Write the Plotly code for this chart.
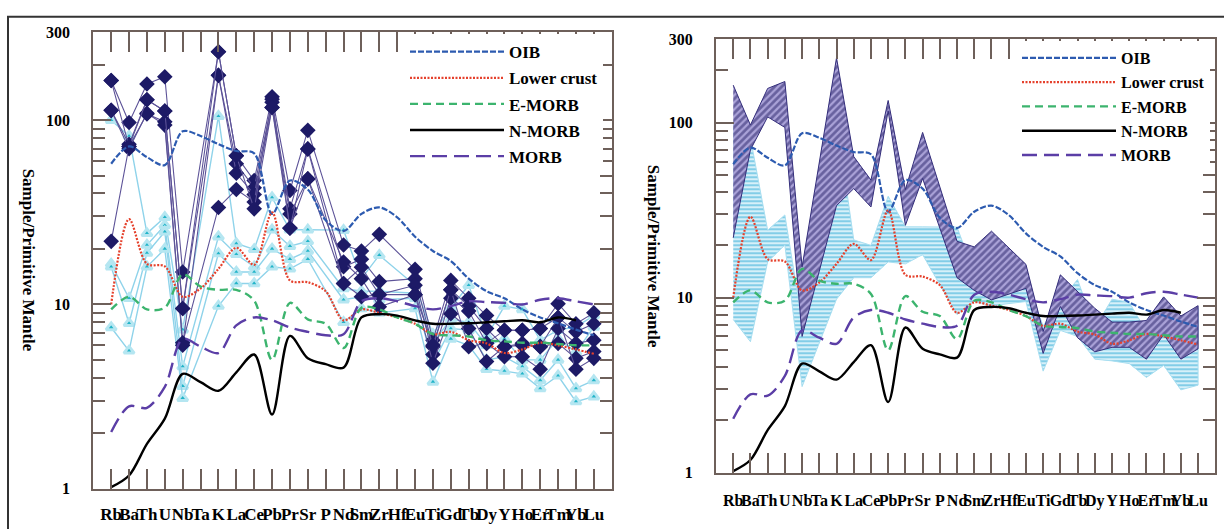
import plotly.graph_objects as go

W, H = 1224, 529

elements = ["Rb", "Ba", "Th", "U", "Nb", "Ta", "K", "La", "Ce", "Pb", "Pr", "Sr", "P", "Nd",
            "Sm", "Zr", "Hf", "Eu", "Ti", "Gd", "Tb", "Dy", "Y", "Ho", "Er", "Tm", "Yb", "Lu"]

# Reference curves (normalised to primitive mantle)
oib = [58, 72, 63, 57, 87, 82, 74, 68, 66, 31, 47, 42, 28.6, 25, 31, 33.6, 29.7, 23.3,
       19.5, 17.2, 13.8, 11.8, 10.8, 9.4, 8.5, 7.9, 7.3, 6.8]
lower_crust = [10.0, 29, 16.6, 16.1, 11.0, 12.2, 15.6, 20.3, 16.4, 31.6, 13.5, 13.2, 11.8, 8.2,
               9.4, 9.0, 8.5, 7.85, 6.9, 7.1, 6.4, 6.15, 5.45, 5.7, 6.2, 6.0, 5.7, 5.4]
e_morb = [9.4, 11.0, 9.4, 9.6, 14.6, 12.5, 12.0, 12.0, 10.5, 5.0, 10.2, 8.3, 7.85, 5.8,
          9.6, 9.4, 8.5, 7.85, 6.9, 6.8, 6.7, 6.4, 6.3, 6.2, 6.2, 6.1, 6.0, 6.0]
n_morb = [1.02, 1.18, 1.75, 2.4, 4.2, 3.79, 3.4, 4.28, 5.35, 2.53, 6.75, 5.1, 4.74, 4.54,
          8.5, 8.85, 8.7, 8.2, 7.85, 7.85, 7.9, 8.0, 8.1, 8.2, 8.0, 8.5, 8.2, None]
morb = [2.03, 2.8, 2.75, 3.57, 6.5, 5.9, 5.45, 7.7, 8.5, 8.2, 7.5, 7.1, 6.8, 6.9,
        10.4, 10.8, 10.4, 9.8, 9.4, 9.8, 10.4, 10.3, 10.2, 10.0, 10.6, 10.8, 10.4, 10.0]

# Samples: dark group (diamonds)
dark_1 = [164, 97, 157, 172, 15, None, 235, 64, 47, 134, 41.5, 88, None, 21, 19.5, 24, None,
          15.5, 6.4, 13.5, 10.8, 8.7, 7.25, 7.25, 7.4, 10.1, 7.85, 9.0]
dark_2 = [113, 74, 129, 112, 9.5, None, 175, 58, 43, 125, 33, 70, None, 16, 17.6, 13.3, None,
          13.8, 5.9, 12.0, 9.8, 7.4, 5.9, 6.15, 5.9, 8.5, 7.1, 7.85]
dark_3 = [113, 70, 109, 94, 6.0, None, 175, 51.5, 39.5, 117, 31, 48, None, 13, 15.9, 11.3, None,
          12.7, 5.35, 10.8, 9.2, 6.15, 5.2, 5.2, 4.45, 7.4, 6.15, 6.4]
dark_4 = [22, 72, 108, 98, 6.2, None, 33.6, 42, 36, 130, 26, 48, None, 17, 13.8, 9.7, None,
          11.3, 4.8, 8.9, 7.4, 4.9, 5.9, 6.0, 5.9, 6.15, 5.1, 5.55]
dark_5 = [164, 72, 129, 112, 9.5, None, 235, 64, 33, 117, 25.9, 69.6, None, 13, 11.0, 11.3, None,
          11.3, 6.0, 12.0, 5.9, 6.15, 7.25, 7.25, 7.4, 8.5, 4.45, 5.1]

# Samples: light group (triangles)
light_1 = [100, 82, 24.3, 29.7, 7.3, None, 105, 21.4, 19.9, 38, 25.4, 25.4, None, 25.3, 13.8,
           18.5, None, 12.7, 6.9, 9.6, 12.7, 6.7, 9.8, 9.4, 6.4, 7.25, 7.55, 8.7]
light_2 = [16.6, 10.8, 21, 26.9, 4.6, None, 23.3, 18.7, 16, 25.4, 20.7, 22, None, 12.2, 11.8,
           11.8, None, 11.5, 6.2, 8.3, 8.0, 6.0, 6.5, 5.0, 5.0, 6.5, 5.5, 7.55]
light_3 = [16, 7.9, 19, 24.8, 3.6, None, 18.9, 15, 15, 20, 17.6, 19.5, None, 10.6, 11.0,
           10.6, None, 10.8, 4.8, 7.4, 7.25, 5.0, 5.2, 4.6, 3.87, 5.0, 3.5, 3.87]
light_4 = [7.5, 5.6, 16, 20, 3.1, None, 9.8, 13, 13, 16, 15.6, 17.6, None, 8.0, 9.5,
           9.0, None, 9.5, 3.8, 6.5, 6.0, 4.45, 4.35, 4.2, 3.5, 4.1, 2.97, 3.16]

dark_samples = [dark_1, dark_2, dark_3, dark_4, dark_5]
light_samples = [light_1, light_2, light_3, light_4]

ref_curves = [
    ("OIB", oib, dict(color="#2d5bb0", width=2.2, dash="6px,2px")),
    ("Lower crust", lower_crust, dict(color="#e5412c", width=2.2, dash="2px,1.5px")),
    ("E-MORB", e_morb, dict(color="#3cb46e", width=2.4, dash="8px,5px")),
    ("N-MORB", n_morb, dict(color="#000000", width=2.4)),
    ("MORB", morb, dict(color="#5b3ea6", width=2.4, dash="15px,7px")),
]

FRAME = "#6e605a"
SERIF = "Liberation Serif"
idx = list(range(len(elements)))
YR = [0, 2.4771]

fig = go.Figure()

# ---------------- left panel: individual samples ----------------
for s in light_samples:
    fig.add_trace(go.Scatter(
        x=idx, y=s, mode="lines+markers", connectgaps=True, showlegend=False,
        line=dict(color="#8fd3ea", width=1.4),
        marker=dict(symbol="triangle-up", size=9, color="#22b4c8",
                    line=dict(color="#b5e6f1", width=3)),
        xaxis="x", yaxis="y", hoverinfo="skip"))
for s in dark_samples:
    fig.add_trace(go.Scatter(
        x=idx, y=s, mode="lines+markers", connectgaps=True, showlegend=False,
        line=dict(color="#5d5398", width=1.1),
        marker=dict(symbol="diamond", size=12, color="#1d1a66"),
        xaxis="x", yaxis="y", hoverinfo="skip"))


def envelope(samples):
    xs, lo, hi = [], [], []
    for i in idx:
        vals = [s[i] for s in samples if s[i] is not None]
        if vals:
            xs.append(i)
            lo.append(min(vals))
            hi.append(max(vals))
    return xs + xs[::-1], hi + lo[::-1]


# ---------------- right panel: envelopes ----------------
ex, ey = envelope(light_samples)
fig.add_trace(go.Scatter(
    x=ex, y=ey, mode="lines", fill="toself", showlegend=False,
    line=dict(color="#a8def0", width=1),
    fillcolor="rgba(0,0,0,0)",
    fillpattern=dict(shape="-", fgcolor="#2eaad6", bgcolor="#d6f0f9", size=4, solidity=0.5),
    xaxis="x2", yaxis="y2", hoverinfo="skip"))
ex, ey = envelope(dark_samples)
fig.add_trace(go.Scatter(
    x=ex, y=ey, mode="lines", fill="toself", showlegend=False,
    line=dict(color="#332d7a", width=1),
    fillcolor="rgba(0,0,0,0)",
    fillpattern=dict(shape="/", fgcolor="#252066", bgcolor="#aaa2d8", size=5, solidity=0.55),
    xaxis="x2", yaxis="y2", hoverinfo="skip"))

# ---------------- reference curves in both panels ----------------
for xa, ya, lg in [("x", "y", "legend"), ("x2", "y2", "legend2")]:
    for j, (name, vals, ln) in enumerate(ref_curves):
        fig.add_trace(go.Scatter(
            x=idx, y=vals, mode="lines", name=name,
            line=dict(shape="spline", smoothing=0.9, **ln),
            legend=lg, legendgroup=f"{lg}_{j}", xaxis=xa, yaxis=ya, hoverinfo="skip"))


def xaxis(domain, anchor, fsize, standoff):
    return dict(domain=domain, anchor=anchor, range=[-1, 28], tickmode="array", tickvals=idx,
                ticktext=elements, tickangle=0, ticks="inside", ticklen=20, tickwidth=2,
                tickcolor=FRAME, showline=True, linecolor=FRAME, linewidth=2,
                mirror="allticks", showgrid=False, zeroline=False, ticklabelstandoff=standoff,
                tickfont=dict(family=SERIF, size=fsize, color="black", weight="bold"))


minor_vals = [2, 3, 4, 5, 6, 7, 8, 9, 20, 30, 40, 50, 60, 70, 80, 90, 200]


def yaxis(domain, anchor):
    return dict(domain=domain, anchor=anchor, type="log", range=YR,
                tickmode="array", tickvals=[1, 10, 100, 300], ticktext=["1", "10", "100", "300"],
                ticks="inside", ticklen=18, tickwidth=2, tickcolor=FRAME,
                minor=dict(tickmode="array", tickvals=minor_vals, ticks="inside", ticklen=12,
                           tickwidth=2, tickcolor=FRAME),
                showline=True, linecolor=FRAME, linewidth=2, mirror="allticks",
                showgrid=False, zeroline=False, ticklabelstandoff=18,
                tickfont=dict(family=SERIF, size=16, color="black", weight="bold"))


def legend(x, y, fsize, gap):
    # white box hides the top ticks behind the key, as in the original figure
    return dict(x=x, y=y, xanchor="left", yanchor="top", bgcolor="white", borderwidth=0,
                itemwidth=94, tracegroupgap=gap, traceorder="grouped",
                font=dict(family=SERIF, size=fsize, color="black", weight="bold"))


title_font = dict(family=SERIF, size=17, color="black", weight="bold")

fig.update_layout(
    width=W, height=H, margin=dict(l=0, r=0, t=0, b=0),
    paper_bgcolor="white", plot_bgcolor="white",
    xaxis=xaxis([93.3 / W, 611.7 / W], "y", 17, 9),
    yaxis=yaxis([1 - 496.7 / H, 1 - 25 / H], "x"),
    xaxis2=xaxis([716 / W, 1215.3 / W], "y2", 16, 12),
    yaxis2=yaxis([1 - 480 / H, 1 - 32.3 / H], "x2"),
    legend=legend(405 / W, 1 - 27 / H, 17, 1),
    legend2=legend(1017 / W, 1 - 34 / H, 16, 0.5),
    annotations=[
        dict(text="Sample/Primitive Mantle", xref="paper", yref="paper", x=28 / W, y=1 - 260 / H,
             xanchor="center", yanchor="middle", textangle=90, showarrow=False, font=title_font),
        dict(text="Sample/Primitive Mantle", xref="paper", yref="paper", x=653 / W, y=1 - 256 / H,
             xanchor="center", yanchor="middle", textangle=90, showarrow=False, font=title_font),
    ],
    shapes=[dict(type="rect", xref="paper", yref="paper", x0=8 / W, x1=1.02, y0=-0.02,
                 y1=1 - 9 / H, line=dict(color="#333333", width=2))],
)

fig.write_html("out.html")
